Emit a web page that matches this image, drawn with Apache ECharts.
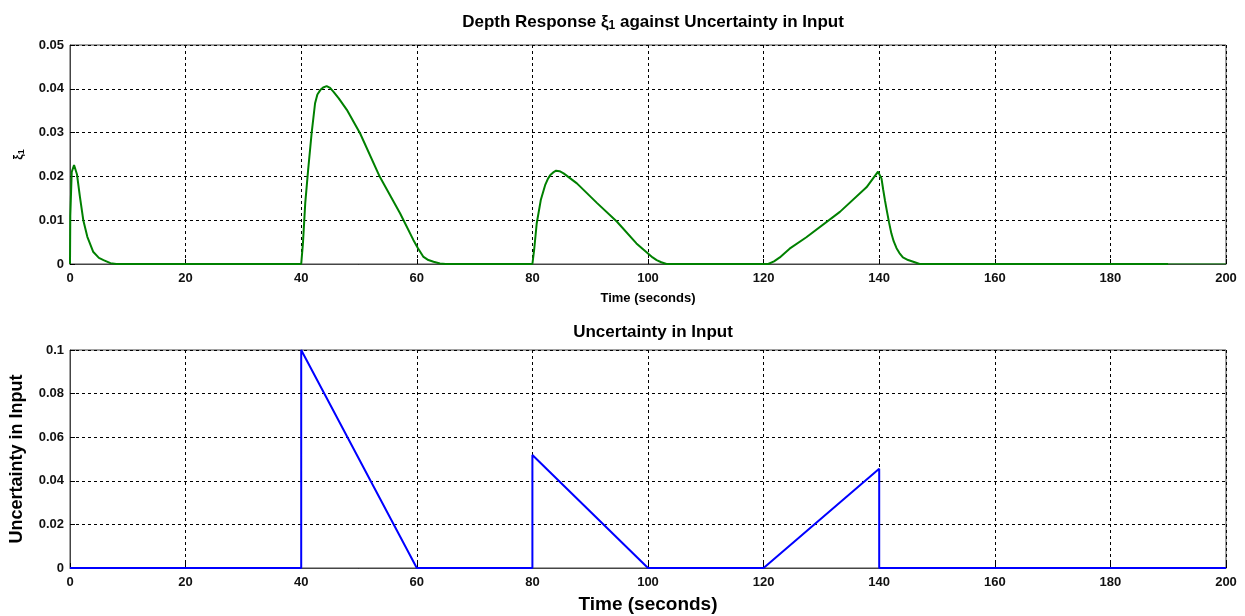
<!DOCTYPE html>
<html>
<head>
<meta charset="utf-8">
<script src="https://cdn.jsdelivr.net/npm/echarts@6/dist/echarts.min.js"></script>
<style>
html,body{margin:0;padding:0;background:#fff;}
#c{width:1245px;height:616px;}
</style>
</head>
<body>
<div id="c"></div>
<script>
// ---- Data ----
const xTicks = [0, 20, 40, 60, 80, 100, 120, 140, 160, 180, 200];

const xiTime = [0, 0.05, 0.3, 0.7, 1.2, 1.7, 2.3, 3, 4, 5, 5.8, 7, 8,
  40, 40.3, 40.7, 41.2, 41.8, 42.4, 42.8, 43.3, 43.8, 44.4, 45.0, 45.6, 46.5, 47.9, 50.2, 53.6, 57.1, 59.4, 60.2, 61.1, 62.0, 62.9, 64, 65,
  80, 80.3, 80.75, 81.45, 82.2, 82.7, 83.1, 83.6, 84.1, 84.7, 85.4, 87.7, 91.2, 94.6, 98, 99.2, 100, 100.8, 101.5, 102.3, 103.2,
  120.8, 121.8, 122.8, 124.5, 127.4, 133.2, 137.8, 139.8, 140.1, 140.4, 140.7, 141.0, 141.3, 141.7, 142.1, 142.5, 143, 143.5, 144.1, 145, 145.9, 147, 190];
const xiValues = [0, 0.011, 0.021, 0.0226, 0.0205, 0.0155, 0.010, 0.0062, 0.0028, 0.0014, 0.0009, 0.0002, 0,
  0, 0.0047, 0.0139, 0.0215, 0.0298, 0.0367, 0.0387, 0.0397, 0.0403, 0.0406, 0.0402, 0.0393, 0.0378, 0.0352, 0.0298, 0.0199, 0.0116, 0.0055, 0.0036, 0.0017, 0.0009, 0.0005, 0.0001, 0,
  0, 0.0032, 0.0093, 0.0146, 0.018, 0.0195, 0.0203, 0.0209, 0.0213, 0.0212, 0.0207, 0.0184, 0.0139, 0.0097, 0.0047, 0.0033, 0.0024, 0.0015, 0.0009, 0.0004, 0,
  0, 0.0006, 0.0015, 0.0035, 0.0061, 0.0119, 0.0175, 0.0211, 0.0210, 0.0195, 0.0169, 0.0145, 0.0123, 0.0095, 0.007, 0.0052, 0.0036, 0.0025, 0.0015, 0.0009, 0.0005, 0, 0];
const xiTailTime = [190, 200];
const xiTailValues = [0, 0];

const uncTime = [0, 40, 40, 60, 80, 80, 100, 120, 140, 140, 200];
const uncValues = [0, 0, 0.1, 0, 0, 0.0518, 0, 0, 0.0455, 0, 0];

function pairs(xs, ys) { return xs.map((x, i) => [x, ys[i]]); }

const FONT = "'Liberation Sans Narrow', 'Liberation Sans', Arial, sans-serif";
const grid1 = {left: 70, top: 45, width: 1156, height: 219};
const grid2 = {left: 70, top: 350, width: 1156, height: 218};

function xAxisCfg(gi, name, nameSize, nameGap) {
  return {
    type: 'value', gridIndex: gi, min: 0, max: 200, interval: 20,
    name: name, nameLocation: 'middle', nameGap: nameGap,
    nameTextStyle: {fontFamily: FONT, fontWeight: 'bold', fontSize: nameSize, color: '#000'},
    axisLine: {show: true, onZero: false, lineStyle: {color: '#444', width: 1}},
    axisTick: {show: true, inside: true, length: 5, lineStyle: {color: '#000'}},
    axisLabel: {fontFamily: FONT, fontWeight: 'bold', fontSize: 13, color: '#111', margin: 8},
    splitLine: {show: true, lineStyle: {type: [3, 3], color: '#000', width: 1}}
  };
}
function yAxisCfg(gi, max, interval, name, nameStyle, nameGap) {
  return {
    type: 'value', gridIndex: gi, min: 0, max: max, interval: interval,
    name: name, nameLocation: 'middle', nameGap: nameGap, nameRotate: 90,
    nameTextStyle: nameStyle,
    axisLine: {show: true, lineStyle: {color: '#444', width: 1}},
    axisTick: {show: true, inside: true, length: 5, lineStyle: {color: '#000'}},
    axisLabel: {fontFamily: FONT, fontWeight: 'bold', fontSize: 13, color: '#111', margin: 6},
    splitLine: {show: true, lineStyle: {type: [3, 3], color: '#000', width: 1}}
  };
}

const chart = echarts.init(document.getElementById('c'), null, {renderer: 'canvas'});
chart.setOption({
  animation: false,
  backgroundColor: '#fff',
  title: [
    {
      text: '{t|Depth Response ξ}{s|1}{t| against Uncertainty in Input}',
      left: 648, top: 7, textAlign: 'center',
      textStyle: {
        rich: {
          t: {fontFamily: FONT, fontWeight: 'bold', fontSize: 17, color: '#000'},
          s: {fontFamily: FONT, fontWeight: 'bold', fontSize: 12, color: '#000', verticalAlign: 'bottom', padding: [8, 0, 0, 0]}
        }
      }
    },
    {
      text: 'Uncertainty in Input',
      left: 648, top: 319, textAlign: 'center',
      textStyle: {fontFamily: FONT, fontWeight: 'bold', fontSize: 17, color: '#000'}
    }
  ],
  grid: [
    Object.assign({show: true, borderColor: '#444', borderWidth: 1, backgroundColor: '#fff', outerBoundsMode: 'none', containLabel: false}, grid1),
    Object.assign({show: true, borderColor: '#444', borderWidth: 1, backgroundColor: '#fff', outerBoundsMode: 'none', containLabel: false}, grid2)
  ],
  xAxis: [
    xAxisCfg(0, 'Time (seconds)', 13, 28),
    xAxisCfg(1, 'Time (seconds)', 19, 27)
  ],
  yAxis: [
    yAxisCfg(0, 0.05, 0.01, '{a|ξ}{b|1}', {
      rich: {
        a: {fontFamily: FONT, fontWeight: 'bold', fontSize: 12, color: '#000'},
        b: {fontFamily: FONT, fontWeight: 'bold', fontSize: 9, color: '#000', verticalAlign: 'bottom', padding: [6, 0, 0, 0]}
      }
    }, 44),
    yAxisCfg(1, 0.1, 0.02, 'Uncertainty in Input',
      {fontFamily: FONT, fontWeight: 'bold', fontSize: 18, color: '#000'}, 44)
  ],
  series: [
    {
      type: 'line', xAxisIndex: 0, yAxisIndex: 0, showSymbol: false, symbol: 'none',
      data: pairs(xiTime, xiValues), smooth: false,
      lineStyle: {color: '#008000', width: 2}
    },
    {
      type: 'line', xAxisIndex: 0, yAxisIndex: 0, showSymbol: false, symbol: 'none',
      data: pairs(xiTailTime, xiTailValues),
      lineStyle: {color: '#008000', width: 1}
    },
    {
      type: 'line', xAxisIndex: 1, yAxisIndex: 1, showSymbol: false, symbol: 'none',
      data: pairs(uncTime, uncValues),
      lineStyle: {color: '#0000ff', width: 2}
    }
  ]
});
</script>
</body>
</html>
